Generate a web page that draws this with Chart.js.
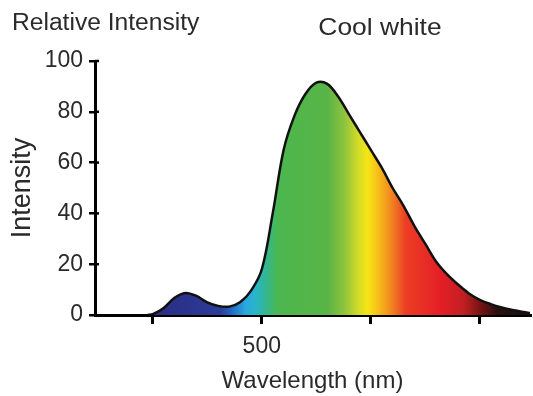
<!DOCTYPE html>
<html>
<head>
<meta charset="utf-8">
<script src="https://cdn.jsdelivr.net/npm/chart.js@4/dist/chart.umd.min.js"></script>
<style>
  html, body { margin: 0; padding: 0; background: #fff; }
  #wrap { width: 533px; height: 396px; position: relative; }
</style>
</head>
<body>
<div id="wrap"><canvas id="c" width="533" height="396"></canvas></div>
<script>
// ---- data ----
const wavelengths = [395, 400, 410, 420, 430, 440, 450, 460, 470, 480, 490, 500, 510, 520, 530, 540, 550, 560, 570, 580, 590, 600, 610, 620, 630, 640, 650, 660, 670, 680, 690, 700, 710, 720, 730, 740, 746];
const intensity   = [0, 0.3, 2.8, 6.8, 8.7, 7.5, 5, 3.6, 3.3, 5, 9.5, 18, 40, 65, 78.5, 87, 91.5, 91, 86, 79, 72, 65, 58, 50, 43, 35, 28, 21, 16, 12, 8.5, 6, 4.3, 3, 2, 1.2, 0.8];
const xTickValues = [400, 500, 600, 700];
const xTickLabels = ['', '500', '', ''];
const yTickValues = [0, 20, 40, 60, 80, 100];
const titleLeft = 'Relative Intensity';
const titleRight = 'Cool white';
const xAxisTitle = 'Wavelength (nm)';
const yAxisTitle = 'Intensity';

// spectrum colour stops (style)
const spectrumStops = [
  [400, '#2a2c82'], [440, '#2b3690'], [462, '#2a3c9a'], [472, '#2466c2'],
  [485, '#2aa8e0'], [495, '#28b6c6'], [505, '#36b78a'], [515, '#4bb74e'],
  [560, '#59b446'], [575, '#8cc23e'], [588, '#d0da28'], [597, '#f6e614'],
  [606, '#f8c01a'], [618, '#f28a20'], [632, '#ec3d25'], [665, '#e41e26'],
  [685, '#c11f22'], [700, '#7a1414'], [715, '#2a1010'], [746, '#111111']
];

const FONT = '"Liberation Sans", Arial, Helvetica, sans-serif';
const TXT = '#2a2a2a';

function spectrumFill(ctx) {
  const chart = ctx.chart;
  const area = chart.chartArea;
  if (!area) return '#5ab446';
  const x = chart.scales.x;
  const x0 = x.getPixelForValue(spectrumStops[0][0]);
  const x1 = x.getPixelForValue(spectrumStops[spectrumStops.length - 1][0]);
  const g = chart.ctx.createLinearGradient(x0, 0, x1, 0);
  const span = spectrumStops[spectrumStops.length - 1][0] - spectrumStops[0][0];
  spectrumStops.forEach(([nm, col]) => g.addColorStop((nm - spectrumStops[0][0]) / span, col));
  return g;
}

const titlesPlugin = {
  id: 'titles',
  afterDraw(chart) {
    const c = chart.ctx;
    c.save();
    c.fillStyle = TXT;
    c.textBaseline = 'alphabetic';
    c.font = '23px ' + FONT;
    c.textAlign = 'left';
    c.save();
    c.translate(12, 30);
    c.scale(1.07, 1);
    c.fillText(titleLeft, 0, 0);
    c.restore();
    c.font = '24px ' + FONT;
    c.textAlign = 'center';
    c.save();
    c.translate(380, 35);
    c.scale(1.1, 1);
    c.fillText(titleRight, 0, 0);
    c.restore();
    // y tick marks extend slightly to the right of the axis as well
    const y = chart.scales.y;
    const xa = chart.chartArea.left;
    c.strokeStyle = '#000';
    c.lineWidth = 2.5;
    yTickValues.forEach(v => {
      const py = y.getPixelForValue(v);
      if (v === 0) return;
      c.beginPath();
      c.moveTo(xa, py);
      c.lineTo(xa + 4, py);
      c.stroke();
    });
    c.restore();
  }
};

new Chart(document.getElementById('c'), {
  type: 'line',
  data: {
    datasets: [{
      data: wavelengths.map((w, i) => ({ x: w, y: intensity[i] })),
      borderColor: '#111',
      borderWidth: 2.5,
      backgroundColor: spectrumFill,
      fill: 'origin',
      pointRadius: 0,
      tension: 0.35
    }]
  },
  plugins: [titlesPlugin],
  options: {
    responsive: false,
    animation: false,
    layout: { padding: { top: 61, right: 3, left: 0, bottom: 0 } },
    plugins: { legend: { display: false }, tooltip: { enabled: false }, title: { display: false } },
    scales: {
      x: {
        type: 'linear',
        min: 347,
        max: 746,
        afterBuildTicks(scale) { scale.ticks = xTickValues.map(v => ({ value: v })); },
        afterFit(scale) { scale.height = 81; },
        ticks: {
          callback: (v) => { const i = xTickValues.indexOf(v); return i >= 0 ? xTickLabels[i] : ''; },
          font: { family: FONT, size: 23 },
          color: TXT,
          padding: 9,
          maxRotation: 0,
          autoSkip: false
        },
        grid: { drawOnChartArea: false, drawTicks: true, tickLength: 9, color: '#000', lineWidth: 3 },
        border: { color: '#000', width: 3 },
        title: { display: true, text: xAxisTitle, font: { family: FONT, size: 24 }, color: TXT, padding: { top: 6, bottom: 0 } }
      },
      y: {
        min: 0,
        max: 100,
        afterBuildTicks(scale) { scale.ticks = yTickValues.map(v => ({ value: v })); },
        afterFit(scale) { scale.width = 95; },
        ticks: {
          font: { family: FONT, size: 23 },
          color: TXT,
          padding: 6
        },
        grid: { drawOnChartArea: false, drawTicks: true, tickLength: 6, color: '#000', lineWidth: 2.5 },
        border: { color: '#000', width: 3 },
        title: { display: true, text: yAxisTitle, font: { family: FONT, size: 27 }, color: TXT, padding: { top: 6, bottom: 4 } }
      }
    }
  }
});
</script>
</body>
</html>
